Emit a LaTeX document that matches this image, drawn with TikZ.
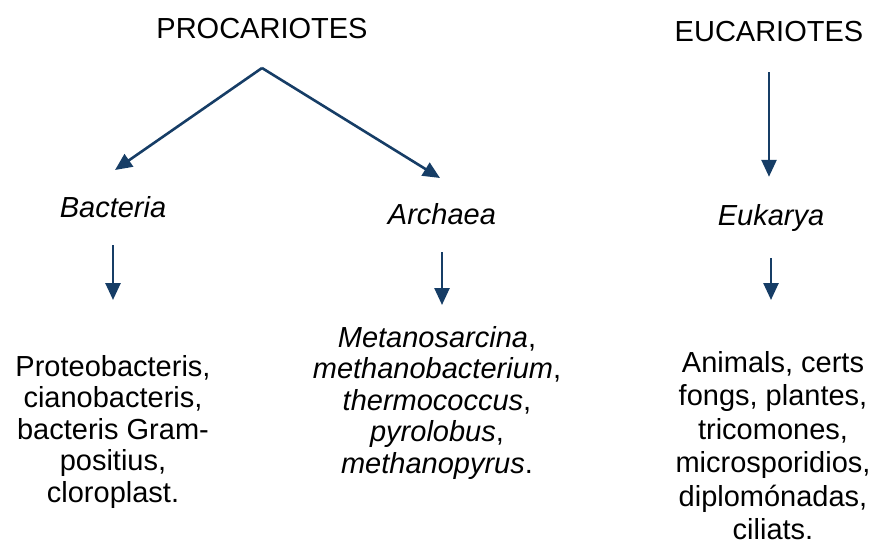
\documentclass[tikz,border=0pt]{standalone}
\usepackage{fontspec}
\setmainfont{Liberation Sans}
\usepackage{tikz}
\usetikzlibrary{arrows.meta}
\definecolor{arrblue}{RGB}{22,61,102}

\begin{document}
\begin{tikzpicture}[x=1pt,y=-1pt,
    lbl/.style={inner sep=0pt,text height=21pt,text depth=6pt,
      font=\fontsize{29}{31.5}\selectfont},
    lst/.style={inner sep=0pt,align=center,anchor=north,
      font=\fontsize{29}{31.5}\selectfont},
    arr/.style={-{Triangle[length=17pt,width=15pt]},color=arrblue,line width=2.6pt}]
        \useasboundingbox (0,0) rectangle (872,545);
        \node[lbl,anchor=base] (PRO) at (262,39) {PROCARIOTES};
        \node[lbl,anchor=base] (EUC) at (769,42) {EUCARIOTES};
        \node[lbl,anchor=base] (BAC) at (113,218) {\textit{Bacteria}};
        \node[lbl,anchor=base] (ARC) at (442,225) {\textit{Archaea}};
        \node[lbl,anchor=base] (EUK) at (771,226) {\textit{Eukarya}};
        \node[lst] (LB) at (113,355) {Proteobacteris,\\cianobacteris,\\bacteris Gram-\\positius,\\cloroplast.};
        \node[lst] (LA) at (437,326) {\textit{Metanosarcina},\\\textit{methanobacterium},\\\textit{thermococcus},\\\textit{pyrolobus},\\\textit{methanopyrus}.};
        \node[lst,font=\fontsize{29}{33.5}\selectfont] (LE) at (773,351) {Animals, certs\\fongs, plantes,\\tricomones,\\microsporidios,\\diplomónadas,\\ciliats.};
        \coordinate (S0) at (262,68);
        \coordinate (T1) at (115,170);
        \coordinate (T2) at (440,178);
        \path[arr] (S0) edge (T1)
        (S0) edge (T2)
        (EUC.south -| 769,0) edge[shorten <=24pt,shorten >=28pt] (EUK.north -| 769,0);
        \path[arr] (BAC) edge[shorten <=21pt,shorten >=55pt] (LB.north -| BAC)
        (ARC) edge[shorten <=21pt,shorten >=21pt] (LA.north -| ARC)
        (EUK) edge[shorten <=26pt,shorten >=51pt] (LE.north -| EUK);
      \end{tikzpicture}
\end{document}
